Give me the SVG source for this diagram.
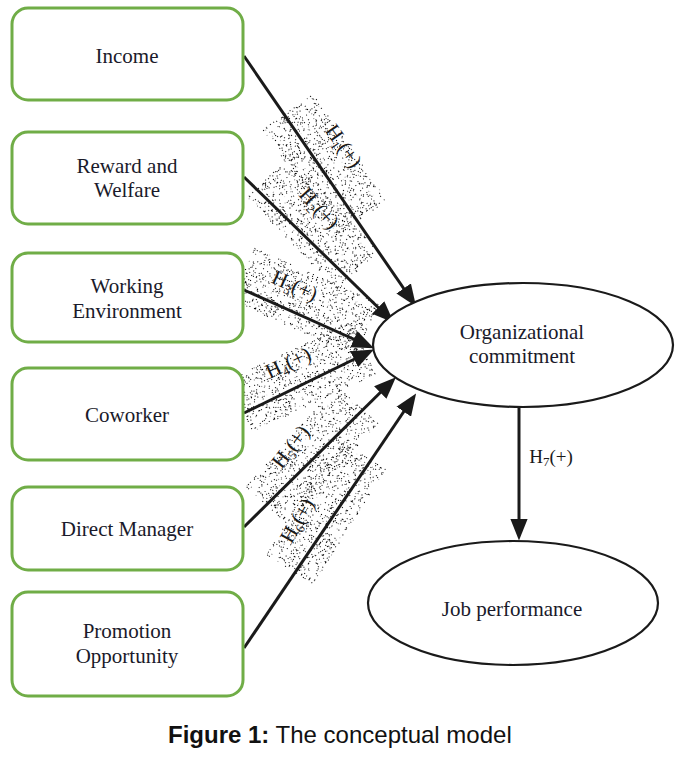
<svg xmlns="http://www.w3.org/2000/svg" width="689" height="759" viewBox="0 0 689 759">
<style>
.box{fill:#fff;stroke:#70ad47;stroke-width:3}
.ell{fill:#fff;stroke:#1a1a1a;stroke-width:2.2}
.t{font-family:"Liberation Serif","Times New Roman",serif;font-size:21px;fill:#1a1a2a;text-anchor:middle}
.h{font-family:"Liberation Serif","Times New Roman",serif;font-size:21px;fill:#1a1a1a;text-anchor:middle}
.sub{font-size:13px}
.ln{stroke:#1a1a1a;stroke-width:3;fill:none;marker-end:url(#ah)}
.st{fill:#000;filter:url(#stip)}
.cap{font-family:"Liberation Sans",Arial,sans-serif;font-size:24px;fill:#111}
</style>
<defs>
<marker id="ah" markerUnits="userSpaceOnUse" markerWidth="22" markerHeight="18" viewBox="0 0 20 16" refX="15" refY="8" orient="auto">
<path d="M0,0 L20,8 L0,16 z" fill="#1a1a1a"/>
</marker>
<filter id="stip" x="-0.1" y="-0.1" width="1.2" height="1.2">
<feTurbulence type="fractalNoise" baseFrequency="1.2" numOctaves="1" seed="7" result="n"/>
<feColorMatrix in="n" type="matrix" values="0 0 0 0 0  0 0 0 0 0  0 0 0 0 0  60 0 0 0 -38.5" result="m"/>
<feComposite in="m" in2="SourceGraphic" operator="in"/>
</filter>
</defs>

<g id="stipples">
<rect class="st" x="-65" y="-31" width="130" height="62" transform="translate(325,165) rotate(55)"/>
<rect class="st" x="-65" y="-29" width="130" height="58" transform="translate(313,224) rotate(46)"/>
<rect class="st" x="-68" y="-29" width="136" height="58" transform="translate(305,302) rotate(24)"/>
<rect class="st" x="-68" y="-29" width="136" height="58" transform="translate(302,377) rotate(-25)"/>
<rect class="st" x="-68" y="-28" width="136" height="56" transform="translate(312,455) rotate(-48)"/>
<rect class="st" x="-68" y="-28" width="136" height="56" transform="translate(326,512) rotate(-58)"/>
</g>

<g id="connectors">
<path class="ln" d="M244,56 L413,302"/>
<path class="ln" d="M244,177 L390,319"/>
<path class="ln" d="M244,290 L369,346"/>
<path class="ln" d="M244,413 L369,352"/>
<path class="ln" d="M244,527 L392,381"/>
<path class="ln" d="M244,648 L413,398"/>
<path class="ln" d="M519,408 L519,535"/>
</g>

<g id="labels">
<text class="h" transform="translate(338,150) rotate(55)">H<tspan class="sub" dy="4">1</tspan><tspan dy="-4">(+)</tspan></text>
<text class="h" transform="translate(314,213) rotate(48)">H<tspan class="sub" dy="4">2</tspan><tspan dy="-4">(+)</tspan></text>
<text class="h" transform="translate(292,292) rotate(24)">H<tspan class="sub" dy="4">3</tspan><tspan dy="-4">(+)</tspan></text>
<text class="h" transform="translate(291,369) rotate(-25)">H<tspan class="sub" dy="4">4</tspan><tspan dy="-4">(+)</tspan></text>
<text class="h" transform="translate(296,451) rotate(-52)">H<tspan class="sub" dy="4">5</tspan><tspan dy="-4">(+)</tspan></text>
<text class="h" transform="translate(303,524) rotate(-60)">H<tspan class="sub" dy="4">6</tspan><tspan dy="-4">(+)</tspan></text>
<text class="h" x="551" y="463" style="font-size:19px">H<tspan class="sub" dy="3">7</tspan><tspan dy="-3">(+)</tspan></text>
</g>

<g id="income"><rect class="box" x="12" y="8" width="231" height="92" rx="16"/><text class="t" x="127" y="63">Income</text></g>
<g id="reward"><rect class="box" x="12" y="132" width="231" height="92" rx="16"/><text class="t" x="127" y="173">Reward and</text><text class="t" x="127" y="197">Welfare</text></g>
<g id="working"><rect class="box" x="12" y="253" width="231" height="89" rx="16"/><text class="t" x="127" y="293">Working</text><text class="t" x="127" y="318">Environment</text></g>
<g id="coworker"><rect class="box" x="12" y="368" width="231" height="92" rx="16"/><text class="t" x="127" y="422">Coworker</text></g>
<g id="manager"><rect class="box" x="12" y="487" width="231" height="83" rx="16"/><text class="t" x="127" y="536">Direct Manager</text></g>
<g id="promotion"><rect class="box" x="12" y="592" width="231" height="104" rx="16"/><text class="t" x="127" y="638">Promotion</text><text class="t" x="127" y="663">Opportunity</text></g>

<g id="commitment"><ellipse class="ell" cx="523" cy="345" rx="150" ry="62"/><text class="t" x="522" y="339">Organizational</text><text class="t" x="522" y="363">commitment</text></g>
<g id="performance"><ellipse class="ell" cx="513" cy="603" rx="145" ry="62"/><text class="t" x="512" y="616">Job performance</text></g>

<text class="cap" x="168" y="743"><tspan font-weight="bold">Figure 1:</tspan> The conceptual model</text>
</svg>
